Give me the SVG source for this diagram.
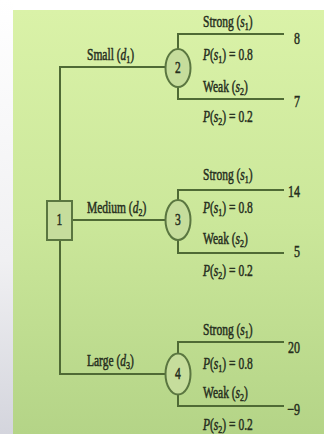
<svg xmlns="http://www.w3.org/2000/svg" width="324" height="434" viewBox="0 0 324 434">
<defs>
<linearGradient id="bg" x1="0" y1="0" x2="0" y2="1">
<stop offset="0" stop-color="#daf2a8"/>
<stop offset="0.5" stop-color="#cbe79a"/>
<stop offset="1" stop-color="#b4d487"/>
</linearGradient>
<linearGradient id="side" x1="0" y1="0" x2="0" y2="1">
<stop offset="0" stop-color="#ffffff"/>
<stop offset="0.6" stop-color="#f0f0f2"/>
<stop offset="1" stop-color="#d4d5dd"/>
</linearGradient>
</defs>
<style>
.ln{stroke:#4f6a35;stroke-width:2;fill:none}
.node{fill:#c6dd9c;stroke:#5a7640;stroke-width:2}
text{font-family:"Liberation Serif","Times New Roman",serif;font-size:11.5px;fill:#262e1d;stroke:#262e1d;stroke-width:0.35}
.i{font-style:italic}
.sub{font-size:8px}
.pay{text-anchor:end;font-size:12px}
</style>
<rect x="0" y="0" width="324" height="434" fill="#ffffff"/>
<rect x="0" y="0" width="13" height="434" fill="url(#side)"/>
<rect x="13" y="10" width="311" height="424" fill="url(#bg)"/>

<g id="connectors">
<path class="ln" d="M60,202 V67 H166"/>
<path class="ln" d="M60,240 V374 H166"/>
<path class="ln" d="M72,220 H166"/>
<path class="ln" d="M178,49 V34 H284 M178,87 V99 H284"/>
<path class="ln" d="M178,200 V190 H284 M178,240 V253 H284"/>
<path class="ln" d="M178,353 V342 H284 M178,395 V406 H284"/>
</g>

<g id="node1">
<rect class="node" x="47" y="201" width="25" height="39"/>
<text transform="translate(59.5,225) scale(1,1.4)" text-anchor="middle">1</text>
</g>
<g id="node2">
<ellipse class="node" cx="178" cy="68" rx="12.5" ry="19"/>
<text transform="translate(178,73) scale(1,1.4)" text-anchor="middle">2</text>
</g>
<g id="node3">
<ellipse class="node" cx="178" cy="220" rx="12.5" ry="20"/>
<text transform="translate(178,225) scale(1,1.4)" text-anchor="middle">3</text>
</g>
<g id="node4">
<ellipse class="node" cx="178" cy="374" rx="12.5" ry="20.5"/>
<text transform="translate(178,379) scale(1,1.4)" text-anchor="middle">4</text>
</g>

<g id="labels">
<text transform="translate(87,60) scale(1,1.4)">Small (<tspan class="i">d</tspan><tspan class="sub" dy="2">1</tspan><tspan dy="-2">)</tspan></text>
<text transform="translate(87,213) scale(1,1.4)">Medium (<tspan class="i">d</tspan><tspan class="sub" dy="2">2</tspan><tspan dy="-2">)</tspan></text>
<text transform="translate(87,366) scale(1,1.4)">Large (<tspan class="i">d</tspan><tspan class="sub" dy="2">3</tspan><tspan dy="-2">)</tspan></text>

<text transform="translate(203,27) scale(1,1.4)">Strong (<tspan class="i">s</tspan><tspan class="sub" dy="2">1</tspan><tspan dy="-2">)</tspan></text>
<text transform="translate(203,60) scale(1,1.4)"><tspan class="i">P</tspan>(<tspan class="i">s</tspan><tspan class="sub" dy="2">1</tspan><tspan dy="-2">) = 0.8</tspan></text>
<text transform="translate(203,92) scale(1,1.4)">Weak (<tspan class="i">s</tspan><tspan class="sub" dy="2">2</tspan><tspan dy="-2">)</tspan></text>
<text transform="translate(203,122) scale(1,1.4)"><tspan class="i">P</tspan>(<tspan class="i">s</tspan><tspan class="sub" dy="2">2</tspan><tspan dy="-2">) = 0.2</tspan></text>

<text transform="translate(203,180) scale(1,1.4)">Strong (<tspan class="i">s</tspan><tspan class="sub" dy="2">1</tspan><tspan dy="-2">)</tspan></text>
<text transform="translate(203,213) scale(1,1.4)"><tspan class="i">P</tspan>(<tspan class="i">s</tspan><tspan class="sub" dy="2">1</tspan><tspan dy="-2">) = 0.8</tspan></text>
<text transform="translate(203,244) scale(1,1.4)">Weak (<tspan class="i">s</tspan><tspan class="sub" dy="2">2</tspan><tspan dy="-2">)</tspan></text>
<text transform="translate(203,276) scale(1,1.4)"><tspan class="i">P</tspan>(<tspan class="i">s</tspan><tspan class="sub" dy="2">2</tspan><tspan dy="-2">) = 0.2</tspan></text>

<text transform="translate(203,335) scale(1,1.4)">Strong (<tspan class="i">s</tspan><tspan class="sub" dy="2">1</tspan><tspan dy="-2">)</tspan></text>
<text transform="translate(203,369) scale(1,1.4)"><tspan class="i">P</tspan>(<tspan class="i">s</tspan><tspan class="sub" dy="2">1</tspan><tspan dy="-2">) = 0.8</tspan></text>
<text transform="translate(203,398) scale(1,1.4)">Weak (<tspan class="i">s</tspan><tspan class="sub" dy="2">2</tspan><tspan dy="-2">)</tspan></text>
<text transform="translate(203,430) scale(1,1.4)"><tspan class="i">P</tspan>(<tspan class="i">s</tspan><tspan class="sub" dy="2">2</tspan><tspan dy="-2">) = 0.2</tspan></text>
</g>

<g id="payoffs">
<text class="pay" transform="translate(300,44) scale(1,1.4)">8</text>
<text class="pay" transform="translate(300,107) scale(1,1.4)">7</text>
<text class="pay" transform="translate(300,197) scale(1,1.4)">14</text>
<text class="pay" transform="translate(300,257) scale(1,1.4)">5</text>
<text class="pay" transform="translate(300,353) scale(1,1.4)">20</text>
<text class="pay" transform="translate(300,415) scale(1,1.4)">−9</text>
</g>
</svg>
